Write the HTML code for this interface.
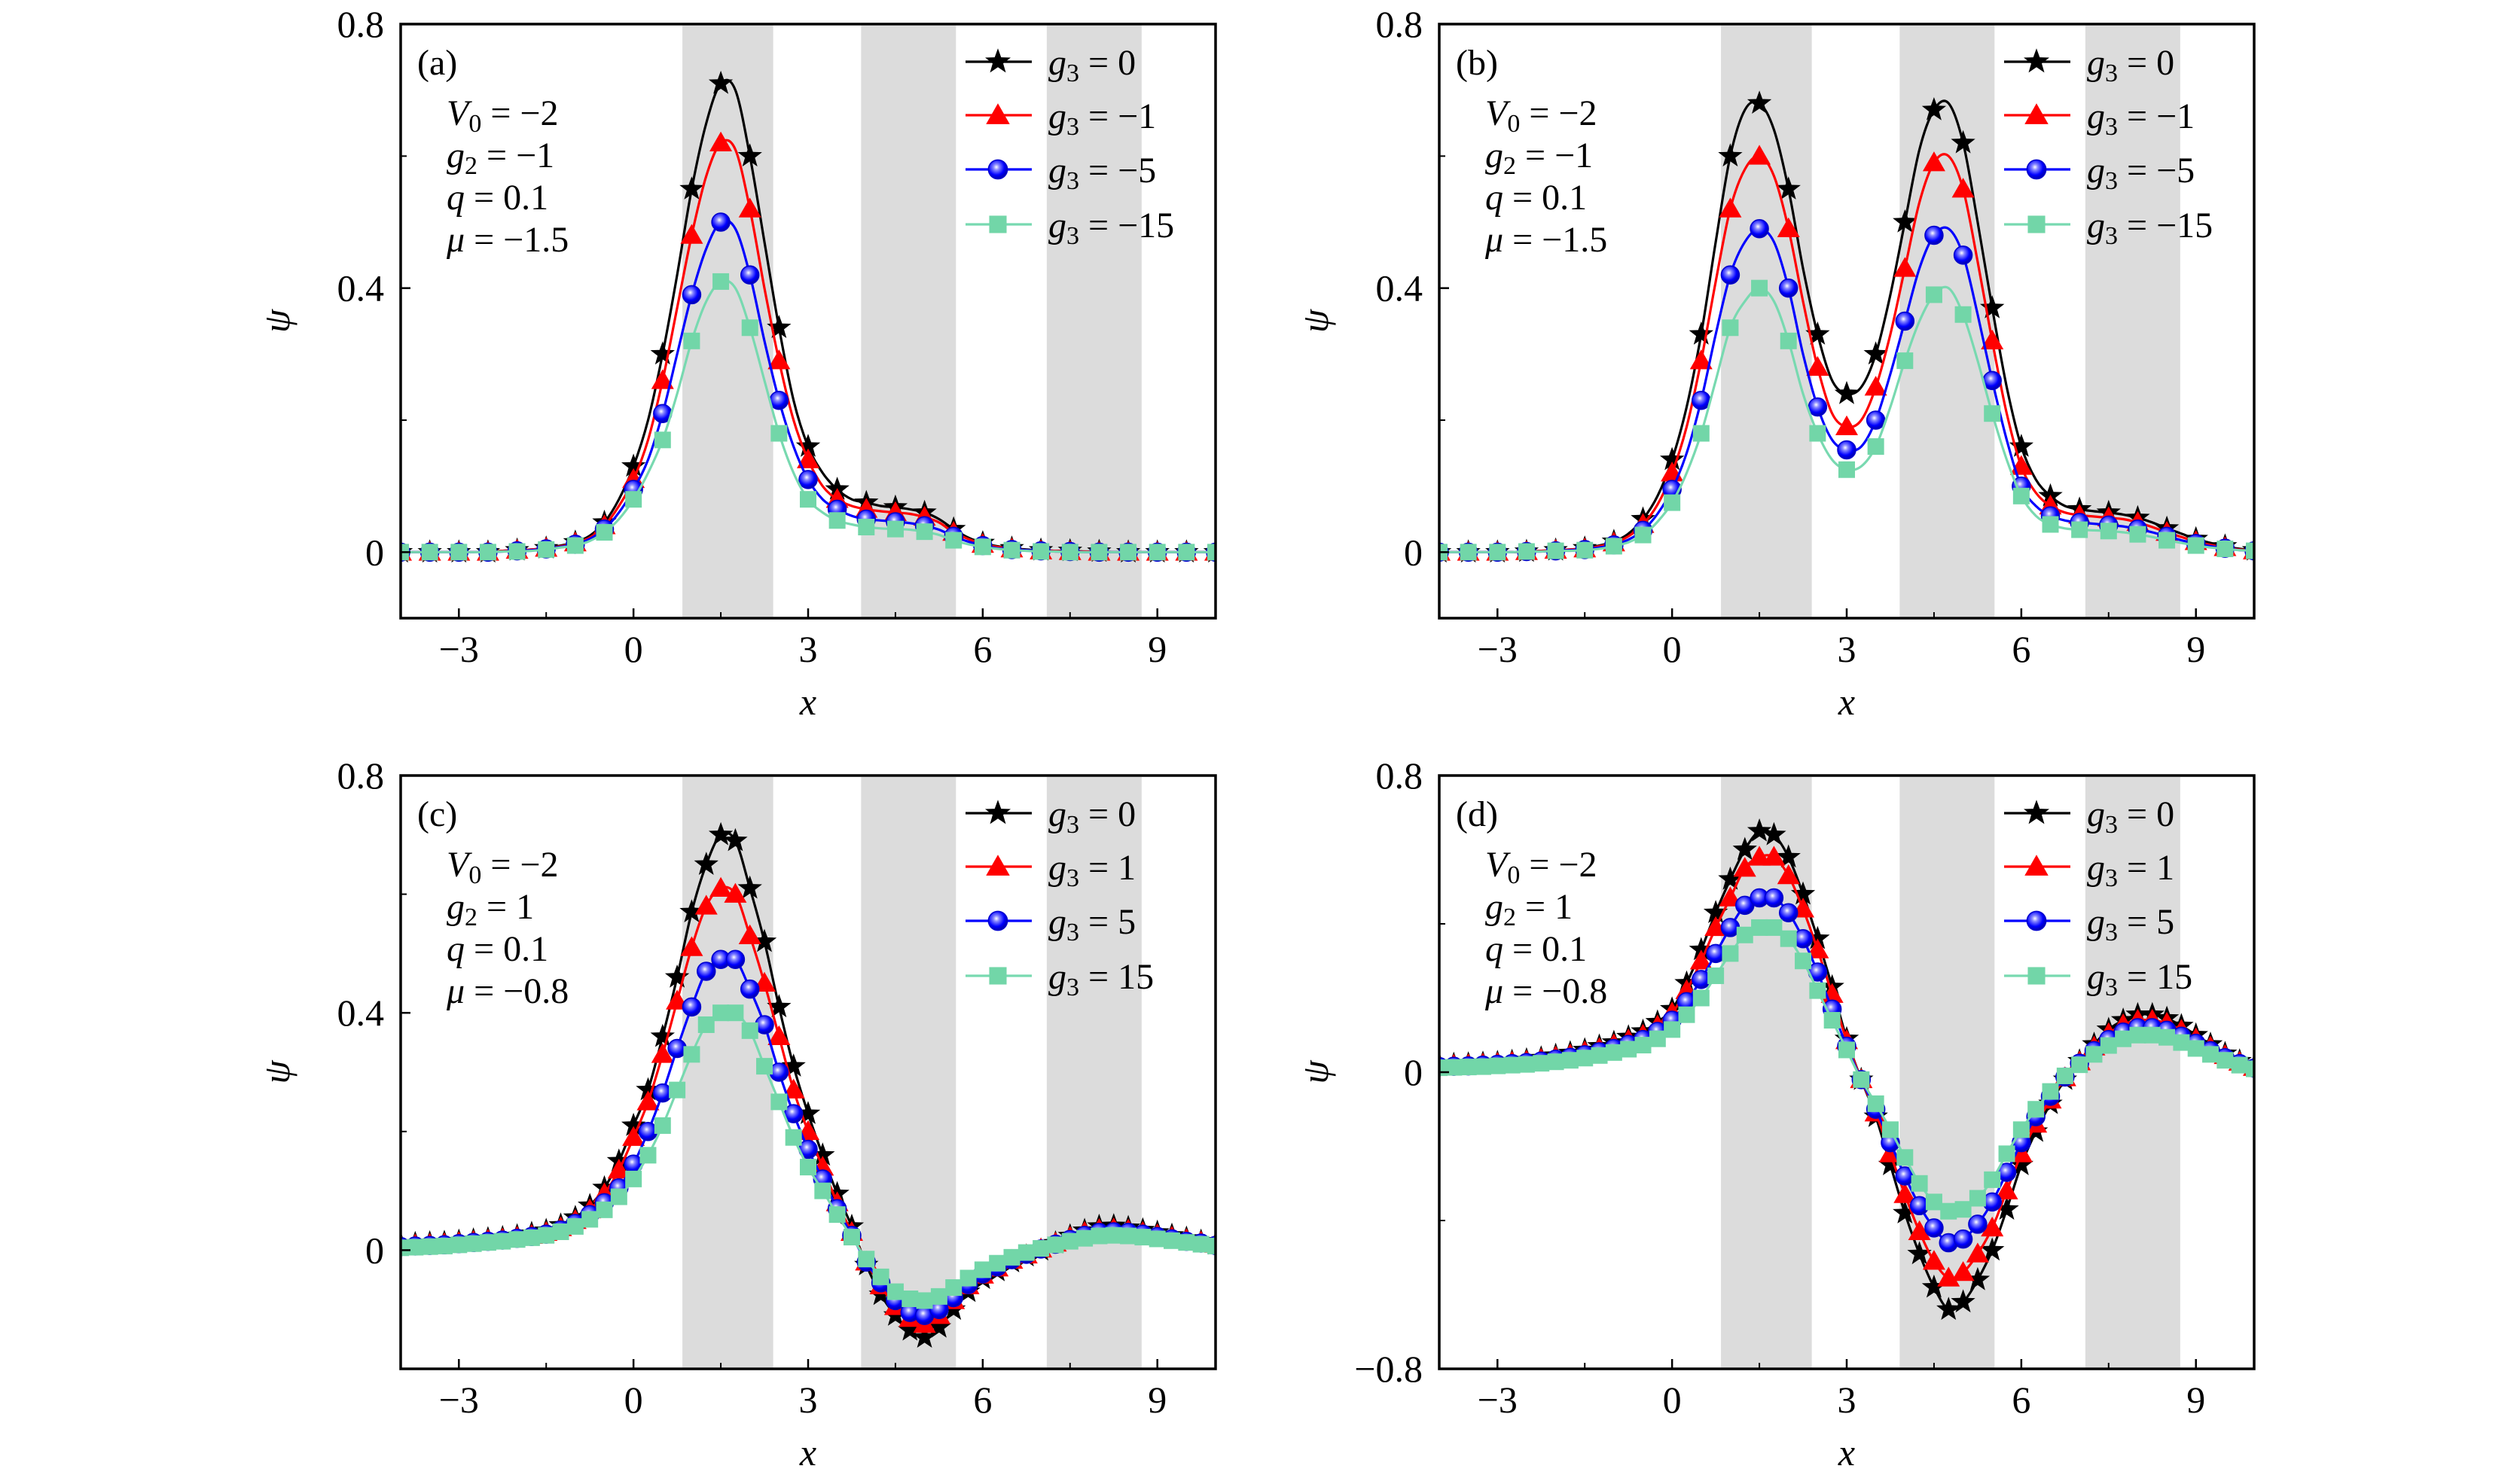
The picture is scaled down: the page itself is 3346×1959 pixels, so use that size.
<!DOCTYPE html>
<html><head><meta charset="utf-8"><style>
html,body{margin:0;padding:0;background:#fff;}
svg{display:block;font-family:"Liberation Serif","DejaVu Serif",serif;}
</style></head><body>
<svg id="fig" width="3346" height="1959" viewBox="0 0 3346 1959" xmlns="http://www.w3.org/2000/svg">
<defs>
<radialGradient id="ballGrad" cx="0.42" cy="0.38" r="0.6">
<stop offset="0" stop-color="#ffffff"/><stop offset="0.25" stop-color="#8a8aff"/><stop offset="0.7" stop-color="#0000ff"/><stop offset="1" stop-color="#0000b0"/>
</radialGradient>
</defs>
</svg>
<script>
// ---- data (x grid: -4 to 10 step 0.25) ----
const X0 = -4, DX = 0.25;
const xTicks = [-3, 0, 3, 6, 9];
const xTickLabels = ['\u22123', '0', '3', '6', '9'];
const xMinor = [-1.5, 1.5, 4.5, 7.5];
const bands = [[0.84, 2.4], [3.91, 5.54], [7.1, 8.73]];

const aBlack = [0,0,0,0,0,0,0,0.002,0.003, 0.004,0.006,0.01,0.015,0.025,0.045,0.08,0.13, 0.2,0.3,0.42,0.55,0.65,0.71,0.7,0.6, 0.47,0.34,0.23,0.16,0.12,0.095,0.08,0.075, 0.07,0.068,0.065,0.06,0.05,0.035,0.022,0.014, 0.009,0.006,0.004, 0.003,0.002,0.002,0.001,0.001,0,0,0,0,0,0,0,0];
const aRed = [0,0,0,0,0,0,0,0.002,0.003, 0.004,0.006,0.009,0.014,0.022,0.04,0.07,0.11, 0.17,0.26,0.37,0.48,0.57,0.62,0.61,0.52, 0.4,0.29,0.2,0.14,0.1,0.08,0.07,0.065, 0.062,0.06,0.058,0.053,0.045,0.03,0.02,0.012, 0.008,0.005,0.003, 0.002,0.002,0.001,0.001,0,0,0,0,0,0,0,0,0];
const aBlue = [0,0,0,0,0,0,0,0.001,0.002, 0.003,0.005,0.008,0.012,0.02,0.035,0.06,0.095, 0.14,0.21,0.3,0.39,0.46,0.5,0.49,0.42, 0.32,0.23,0.16,0.11,0.08,0.065,0.055,0.05, 0.048,0.046,0.044,0.04,0.034,0.024,0.016,0.01, 0.006,0.004,0.003, 0.002,0.001,0.001,0,0,0,0,0,0,0,0,0,0];
const aGreen = [0,0,0,0,0,0,0,0.001,0.001, 0.002,0.004,0.007,0.01,0.017,0.03,0.05,0.08, 0.12,0.17,0.24,0.32,0.38,0.41,0.4,0.34, 0.26,0.18,0.12,0.08,0.06,0.048,0.042,0.038, 0.036,0.035,0.034,0.031,0.026,0.018,0.012,0.008, 0.005,0.003,0.002, 0.001,0.001,0,0,0,0,0,0,0,0,0,0,0];

const bBlack = [0,0,0,0,0,0,0.001,0.002,0.003, 0.004,0.006,0.01,0.016,0.028,0.05,0.085,0.14, 0.22,0.33,0.47,0.6,0.67,0.68,0.64,0.55, 0.43,0.33,0.26,0.24,0.25,0.3,0.39,0.5, 0.61,0.67,0.68,0.62,0.5,0.37,0.25,0.16, 0.11,0.085,0.07, 0.065,0.062,0.06,0.057,0.052,0.045,0.036,0.028,0.02,0.014,0.009,0.005,0.003];
const bRed = [0,0,0,0,0,0,0.001,0.002,0.003, 0.004,0.005,0.009,0.014,0.024,0.042,0.072,0.12, 0.19,0.29,0.41,0.52,0.58,0.6,0.57,0.49, 0.38,0.28,0.21,0.19,0.2,0.25,0.33,0.43, 0.53,0.59,0.6,0.55,0.44,0.32,0.21,0.13, 0.09,0.07,0.06, 0.056,0.054,0.052,0.05,0.045,0.038,0.03,0.023,0.016,0.011,0.007,0.004,0.002];
const bBlue = [0,0,0,0,0,0,0.001,0.001,0.002, 0.003,0.004,0.007,0.011,0.019,0.033,0.058,0.095, 0.15,0.23,0.33,0.42,0.47,0.49,0.47,0.4, 0.3,0.22,0.17,0.155,0.16,0.2,0.27,0.35, 0.43,0.48,0.49,0.45,0.36,0.26,0.17,0.1, 0.07,0.055,0.048, 0.045,0.043,0.041,0.039,0.035,0.03,0.024,0.018,0.013,0.009,0.006,0.003,0.002];
const bGreen = [0,0,0,0,0,0,0.001,0.001,0.002, 0.002,0.003,0.005,0.009,0.015,0.026,0.046,0.075, 0.12,0.18,0.26,0.34,0.38,0.4,0.38,0.32, 0.24,0.18,0.14,0.125,0.13,0.16,0.22,0.29, 0.35,0.39,0.4,0.36,0.29,0.21,0.14,0.085, 0.055,0.042,0.036, 0.034,0.033,0.032,0.03,0.027,0.023,0.018,0.014,0.01,0.007,0.005,0.003,0.002];

const cBlack = [0.01,0.011,0.012,0.013,0.015,0.017,0.019,0.021,0.024, 0.028,0.033,0.042,0.055,0.075,0.105,0.15,0.21, 0.27,0.36,0.46,0.57,0.65,0.7,0.69,0.61, 0.52,0.41,0.31,0.23,0.16,0.095,0.04,-0.025, -0.075,-0.11,-0.135,-0.147,-0.13,-0.1,-0.07,-0.048, -0.035,-0.02,-0.01, 0.0,0.012,0.024,0.033,0.04,0.041,0.038,0.034,0.03,0.025,0.02,0.015,0.01];
const cRed = [0.008,0.009,0.01,0.011,0.013,0.015,0.017,0.019,0.022, 0.025,0.03,0.038,0.05,0.068,0.095,0.135,0.19, 0.25,0.33,0.42,0.51,0.58,0.61,0.6,0.53, 0.45,0.36,0.27,0.2,0.14,0.08,0.03,-0.02, -0.06,-0.095,-0.115,-0.125,-0.11,-0.085,-0.06,-0.042, -0.03,-0.017,-0.008, 0.002,0.012,0.022,0.03,0.035,0.036,0.034,0.03,0.026,0.022,0.018,0.014,0.01];
const cBlue = [0.006,0.007,0.008,0.009,0.011,0.013,0.015,0.017,0.02, 0.023,0.027,0.034,0.045,0.06,0.08,0.105,0.145, 0.2,0.265,0.34,0.41,0.47,0.49,0.49,0.44, 0.38,0.3,0.23,0.17,0.12,0.07,0.025,-0.02, -0.055,-0.085,-0.105,-0.11,-0.1,-0.08,-0.058,-0.04, -0.028,-0.016,-0.007, 0.002,0.01,0.018,0.025,0.03,0.031,0.03,0.027,0.023,0.019,0.015,0.012,0.008];
const cGreen = [0.004,0.005,0.006,0.007,0.009,0.011,0.013,0.015,0.018, 0.021,0.025,0.031,0.04,0.052,0.068,0.09,0.12, 0.16,0.21,0.27,0.33,0.38,0.4,0.4,0.37, 0.31,0.25,0.19,0.14,0.1,0.06,0.022,-0.015, -0.045,-0.07,-0.082,-0.085,-0.078,-0.063,-0.047,-0.033, -0.022,-0.012,-0.004, 0.003,0.009,0.015,0.02,0.024,0.025,0.024,0.022,0.019,0.016,0.013,0.01,0.007];

const dBlack = [0.02,0.021,0.022,0.024,0.026,0.029,0.033,0.038,0.045, 0.052,0.06,0.07,0.08,0.095,0.11,0.135,0.17, 0.24,0.33,0.43,0.52,0.6,0.65,0.64,0.58, 0.48,0.36,0.23,0.09,-0.02,-0.12,-0.25,-0.38, -0.49,-0.58,-0.64,-0.62,-0.56,-0.48,-0.37,-0.25, -0.16,-0.085,-0.02, 0.03,0.075,0.115,0.14,0.155,0.155,0.145,0.125,0.1,0.075,0.05,0.03,0.015];
const dRed = [0.018,0.019,0.02,0.022,0.024,0.027,0.03,0.035,0.041, 0.047,0.055,0.064,0.074,0.087,0.1,0.125,0.16, 0.22,0.3,0.39,0.47,0.55,0.58,0.58,0.53, 0.44,0.33,0.21,0.085,-0.02,-0.11,-0.22,-0.33, -0.43,-0.51,-0.555,-0.54,-0.49,-0.42,-0.32,-0.22, -0.14,-0.075,-0.015, 0.028,0.068,0.104,0.128,0.14,0.14,0.132,0.113,0.09,0.068,0.045,0.027,0.013];
const dBlue = [0.015,0.016,0.017,0.019,0.021,0.023,0.026,0.03,0.035, 0.04,0.047,0.055,0.064,0.075,0.088,0.11,0.14, 0.19,0.25,0.32,0.39,0.45,0.47,0.47,0.43, 0.36,0.27,0.17,0.07,-0.02,-0.1,-0.19,-0.28, -0.36,-0.42,-0.46,-0.45,-0.41,-0.35,-0.27,-0.19, -0.12,-0.065,-0.013, 0.024,0.058,0.088,0.108,0.12,0.12,0.113,0.097,0.078,0.058,0.039,0.023,0.011];
const dGreen = [0.012,0.013,0.014,0.015,0.017,0.019,0.021,0.024,0.028, 0.032,0.038,0.045,0.053,0.062,0.073,0.09,0.115, 0.155,0.2,0.26,0.32,0.37,0.39,0.39,0.36, 0.3,0.22,0.14,0.06,-0.02,-0.085,-0.155,-0.23, -0.3,-0.35,-0.375,-0.37,-0.34,-0.29,-0.22,-0.155, -0.1,-0.052,-0.01, 0.02,0.048,0.072,0.09,0.1,0.1,0.094,0.08,0.064,0.048,0.032,0.019,0.009];

const legendUpper = ['0', '\u22121', '\u22125', '\u221215'];
const legendLower = ['0', '1', '5', '15'];
const paramsUpper = ['\u22122', '\u22121', '0.1', '\u22121.5'];
const paramsLower = ['\u22122', '1', '0.1', '\u22120.8'];

const NS = 'http://www.w3.org/2000/svg';
const svg = document.getElementById('fig');
function mk(tag, attrs, parent) {
  const e = document.createElementNS(NS, tag);
  for (const k in attrs) e.setAttribute(k, attrs[k]);
  (parent || svg).appendChild(e);
  return e;
}
const styles = [
  {name:'black', stroke:'#000000', marker:'star'},
  {name:'red', stroke:'#ff0000', marker:'tri'},
  {name:'blue', stroke:'#0000ff', marker:'ball'},
  {name:'green', stroke:'#78d9b0', marker:'square'}
];
function drawMarker(g, type, cx, cy, s) {
  let m;
  if (type === 'star') {
    const R = 17*s, r = 7*s; let pts = [];
    for (let k = 0; k < 10; k++) {
      const ang = -Math.PI/2 + k*Math.PI/5, rr = k%2 ? r : R;
      pts.push((cx + rr*Math.cos(ang)).toFixed(1) + ',' + (cy + rr*Math.sin(ang)).toFixed(1));
    }
    m = mk('polygon', {points: pts.join(' '), fill:'#000'}, g);
  } else if (type === 'tri') {
    const a = 15*s;
    m = mk('polygon', {points: `${cx},${cy-a} ${cx+a*1.0},${cy+a*0.75} ${cx-a*1.0},${cy+a*0.75}`, fill:'#ff0000'}, g);
  } else if (type === 'ball') {
    m = mk('circle', {cx:cx, cy:cy, r:12*s, fill:'url(#ballGrad)', stroke:'#0000cc', 'stroke-width':1.5}, g);
  } else {
    const a = 11*s;
    m = mk('rect', {x:cx-a, y:cy-a, width:2*a, height:2*a, fill:'#72d6a8'}, g);
  }
  return m;
}
function smoothPath(pts) {
  let d = 'M' + pts[0][0].toFixed(1) + ',' + pts[0][1].toFixed(1);
  for (let i = 0; i < pts.length - 1; i++) {
    const p0 = pts[Math.max(i-1,0)], p1 = pts[i], p2 = pts[i+1], p3 = pts[Math.min(i+2, pts.length-1)];
    const c1x = p1[0] + (p2[0]-p0[0])/6, c1y = p1[1] + (p2[1]-p0[1])/6;
    const c2x = p2[0] - (p3[0]-p1[0])/6, c2y = p2[1] - (p3[1]-p1[1])/6;
    d += ` C${c1x.toFixed(1)},${c1y.toFixed(1)} ${c2x.toFixed(1)},${c2y.toFixed(1)} ${p2[0].toFixed(1)},${p2[1].toFixed(1)}`;
  }
  return d;
}
function fmt(v) { return (v < 0 ? '\u2212' : '') + String(Math.abs(v)); }

const panels = [
  {id:'a', left:532, top:32, w:1082, h:789, ymin:-0.1, ymax:0.8, yt:[0,0.4,0.8], ym:[0.2,0.6], data:[aBlack,aRed,aBlue,aGreen], leg:legendUpper, par:paramsUpper, stride:2, ms:1.0},
  {id:'b', left:1911, top:32, w:1082, h:789, ymin:-0.1, ymax:0.8, yt:[0,0.4,0.8], ym:[0.2,0.6], data:[bBlack,bRed,bBlue,bGreen], leg:legendUpper, par:paramsUpper, stride:2, ms:1.0},
  {id:'c', left:532, top:1030, w:1082, h:788, ymin:-0.2, ymax:0.8, yt:[0,0.4,0.8], ym:[0.2,0.6], data:[cBlack,cRed,cBlue,cGreen], leg:legendLower, par:paramsLower, stride:1, ms:1.0},
  {id:'d', left:1911, top:1030, w:1082, h:788, ymin:-0.8, ymax:0.8, yt:[-0.8,0,0.8], ym:[-0.4,0.4], data:[dBlack,dRed,dBlue,dGreen], leg:legendLower, par:paramsLower, stride:1, ms:1.0}
];

panels.forEach(P => {
  const g = mk('g', {});
  
  
  const sx = v => P.left + (v - X0) / 14 * P.w;
  const sy = v => P.top + (P.ymax - v) / (P.ymax - P.ymin) * P.h;
  const bottom = P.top + P.h;
  const cp = mk('clipPath', {id:'clip-' + P.id}, g);
  mk('rect', {x:P.left, y:P.top, width:P.w, height:P.h}, cp);
  bands.forEach((b, i) => {
    const r = mk('rect', {x:sx(b[0]), y:P.top+2, width:sx(b[1])-sx(b[0]), height:P.h-4, fill:'#dcdcdc'}, g);
    
    
  });
  const sg = mk('g', {'clip-path':'url(#clip-' + P.id + ')'}, g);
  P.data.forEach((arr, si) => {
    const st = styles[si];
    const pts = arr.map((v, i) => [sx(X0 + DX*i), sy(v)]);
    const line = mk('path', {d: smoothPath(pts), fill:'none', stroke: st.stroke, 'stroke-width':3.2}, sg);
    
    
    const mg = mk('g', {}, sg);
    
    
    arr.forEach((v, i) => {
      if (i % P.stride !== 0) return;
      const m = drawMarker(mg, st.marker, sx(X0 + DX*i), sy(v), P.ms);
      
      
    });
  });
  const fr = mk('rect', {x:P.left, y:P.top, width:P.w, height:P.h, fill:'none', stroke:'#000', 'stroke-width':3.5}, g);
  
  
  xTicks.forEach((t, i) => {
    const tk = mk('line', {x1:sx(t), x2:sx(t), y1:bottom, y2:bottom-13, stroke:'#000', 'stroke-width':2.5}, g);
    
    
    const lb = mk('text', {x:sx(t), y:bottom+58, 'text-anchor':'middle', 'font-size':50}, g);
    lb.textContent = xTickLabels[i];
    
    
  });
  xMinor.forEach(t => {
    const tk = mk('line', {x1:sx(t), x2:sx(t), y1:bottom, y2:bottom-8, stroke:'#000', 'stroke-width':2}, g);
    
    
  });
  P.yt.forEach(t => {
    const tk = mk('line', {x1:P.left, x2:P.left+13, y1:sy(t), y2:sy(t), stroke:'#000', 'stroke-width':2.5}, g);
    
    
    const lb = mk('text', {x:P.left-22, y:sy(t)+17, 'text-anchor':'end', 'font-size':50}, g);
    lb.textContent = fmt(t);
    
    
  });
  P.ym.forEach(t => {
    const tk = mk('line', {x1:P.left, x2:P.left+8, y1:sy(t), y2:sy(t), stroke:'#000', 'stroke-width':2}, g);
    
    
  });
  const xt = mk('text', {x:P.left+P.w/2, y:bottom+128, 'text-anchor':'middle', 'font-size':50, 'font-style':'italic'}, g);
  xt.textContent = 'x';
  
  
  const cyy = P.top + P.h/2;
  const yt = mk('text', {x:P.left-148, y:cyy, 'text-anchor':'middle', 'font-size':50, 'font-style':'italic', transform:`rotate(-90 ${P.left-148} ${cyy})`}, g);
  yt.textContent = '\u03c8';
  
  
  const pl = mk('text', {x:P.left+22, y:P.top+67, 'font-size':48}, g);
  pl.textContent = '(' + P.id + ')';
  
  
  const pnames = [['V','0'],['g','2'],['q',''],['\u03bc','']];
  const pys = [134, 190, 246, 302];
  pnames.forEach((pn, i) => {
    const t = mk('text', {x:P.left+61, y:P.top+pys[i], 'font-size':48}, g);
    
    
    const s1 = mk('tspan', {'font-style':'italic'}, t); s1.textContent = pn[0];
    if (pn[1]) { const s2 = mk('tspan', {'font-size':34, dy:9}, t); s2.textContent = pn[1]; }
    const s3 = mk('tspan', pn[1] ? {dy:-9} : {}, t); s3.textContent = ' = ' + P.par[i];
  });
  const lys = [50, 121, 193, 266];
  P.leg.forEach((lab, i) => {
    const st = styles[i];
    const lg = mk('g', {}, g);
    
    
    const y = P.top + lys[i];
    mk('line', {x1:P.left+750, x2:P.left+838, y1:y, y2:y, stroke:st.stroke, 'stroke-width':3.2}, lg);
    drawMarker(lg, st.marker, P.left+793, y, 1.05);
    const t = mk('text', {x:P.left+860, y:y+17, 'font-size':48}, lg);
    const a = mk('tspan', {'font-style':'italic'}, t); a.textContent = 'g';
    const b = mk('tspan', {'font-size':34, dy:9}, t); b.textContent = '3';
    const c = mk('tspan', {dy:-9}, t); c.textContent = ' = ' + lab;
  });
});
</script>
</body></html>
